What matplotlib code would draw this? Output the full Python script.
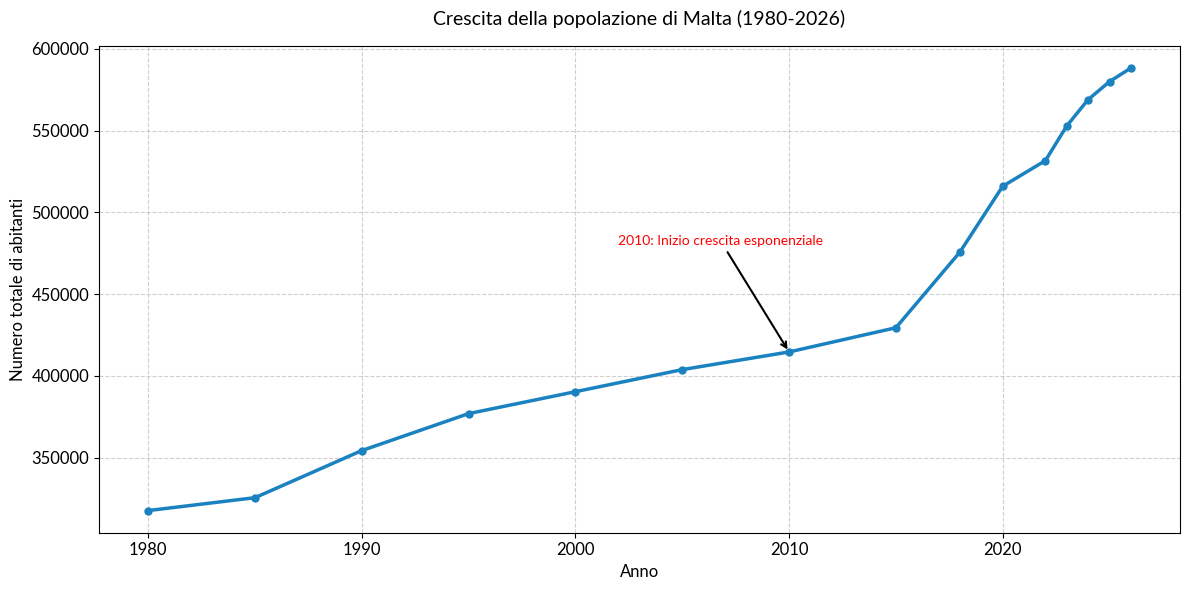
import matplotlib
matplotlib.use("Agg")
import matplotlib.pyplot as plt

plt.rcParams['font.family'] = ['Lato', 'DejaVu Sans']

years = [1980, 1985, 1990, 1995, 2000, 2005, 2010, 2015, 2018, 2020, 2022, 2023, 2024, 2025, 2026]
population = [317600, 325500, 354300, 376900, 390300, 403800, 414600, 429400, 475700,
              515900, 531600, 552800, 568900, 579900, 588200]

title = "Crescita della popolazione di Malta (1980-2026)"
xlabel = "Anno"
ylabel = "Numero totale di abitanti"
annot_text = "2010: Inizio crescita esponenziale"
annot_year = 2010
annot_value = 414600
annot_text_pos = (2002, 480000)

fig, ax = plt.subplots(figsize=(12, 6), dpi=100)
ax.plot(years, population, marker='o', color='#1a82c0', linewidth=2.5, markersize=5)
ax.set_title(title, fontsize=14, pad=15)
ax.set_xlabel(xlabel, fontsize=12)
ax.set_ylabel(ylabel, fontsize=12)
ax.tick_params(labelsize=12)
ax.grid(True, linestyle='--', alpha=0.6)
ax.annotate(annot_text, xy=(annot_year, annot_value), xytext=annot_text_pos,
            arrowprops=dict(arrowstyle='->', color='black', lw=1.5),
            fontsize=10, color='red')
fig.tight_layout()
fig.savefig("out.png", dpi=100, bbox_inches='tight')
